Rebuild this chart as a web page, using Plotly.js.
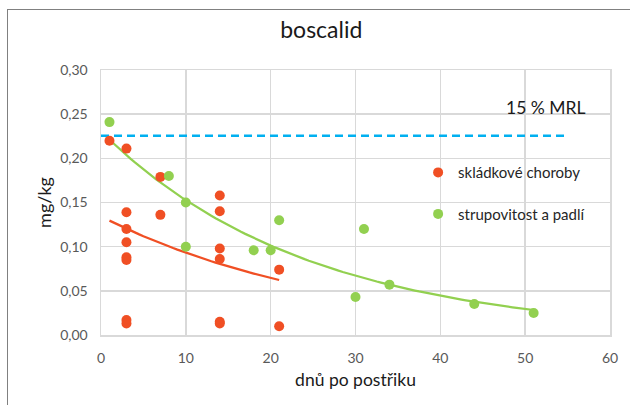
<!DOCTYPE html>
<html>
<head>
<meta charset="utf-8">
<script src="https://cdn.plot.ly/plotly-3.0.1.min.js"></script>
<style>
html,body{margin:0;padding:0;background:#fff;}
#chart{width:630px;height:405px;position:absolute;left:0;top:0;}
#frame{position:absolute;left:7px;top:9px;width:700px;height:500px;border:1.5px solid #808080;pointer-events:none;}
</style>
</head>
<body>
<div id="chart"></div>
<div id="frame"></div>
<script>
// Data
const redName = "skládkové choroby";
const redX = [1, 3, 3, 3, 3, 3, 3, 3, 3, 7, 7, 14, 14, 14, 14, 14, 14, 21, 21];
const redY = [0.220, 0.211, 0.139, 0.120, 0.105, 0.088, 0.085, 0.017, 0.013, 0.179, 0.136, 0.158, 0.140, 0.098, 0.086, 0.015, 0.013, 0.074, 0.010];

const greenName = "strupovitost a padlí";
const greenX = [1, 8, 10, 10, 18, 20, 21, 30, 31, 34, 44, 51];
const greenY = [0.241, 0.180, 0.150, 0.100, 0.096, 0.096, 0.130, 0.043, 0.120, 0.057, 0.035, 0.025];

// Exponential trendlines (Excel style): start and end values
const redTrendX = [1, 21];
const redTrendY = [0.1295, 0.0623];
const greenTrendX = [1, 51];
const greenTrendY = [0.221, 0.0283];

// MRL reference line
const mrlX = [0, 55];
const mrlY = [0.2255, 0.2255];
const mrlLabel = "15 % MRL";

const titleText = "boscalid";
const xTitle = "dnů po postřiku";
const yTitle = "mg/kg";
const xTicks = [0, 10, 20, 30, 40, 50, 60];
const yTicks = [0, 0.05, 0.10, 0.15, 0.20, 0.25, 0.30];

function expCurve(xs, ys) {
  const b = Math.log(ys[1] / ys[0]) / (xs[1] - xs[0]);
  const a = ys[0] / Math.exp(b * xs[0]);
  const X = [], Y = [];
  for (let x = xs[0]; x <= xs[1] + 1e-9; x += 0.5) { X.push(x); Y.push(a * Math.exp(b * x)); }
  return {X, Y};
}
const rT = expCurve(redTrendX, redTrendY);
const gT = expCurve(greenTrendX, greenTrendY);

const RED = '#F04F24', GREEN = '#92D050', BLUE = '#00B0F0';
const FONT = 'Lato, "Liberation Sans", sans-serif';

const traces = [
  {x: mrlX, y: mrlY, mode: 'lines', line: {color: BLUE, width: 2.5, dash: '8px,5px'}, showlegend: false, hoverinfo: 'skip'},
  {x: rT.X, y: rT.Y, mode: 'lines', line: {color: RED, width: 2.25}, showlegend: false, hoverinfo: 'skip'},
  {x: gT.X, y: gT.Y, mode: 'lines', line: {color: GREEN, width: 2.25}, showlegend: false, hoverinfo: 'skip'},
  {x: redX, y: redY, mode: 'markers', name: redName, legendgroup: 'a', marker: {color: RED, size: 10}},
  {x: greenX, y: greenY, mode: 'markers', name: greenName, legendgroup: 'b', marker: {color: GREEN, size: 10}}
];

const layout = {
  width: 630, height: 405,
  margin: {l: 101, r: 20, t: 70, b: 70},
  paper_bgcolor: '#fff', plot_bgcolor: '#fff',
  separators: ', ',
  font: {family: FONT, size: 14, color: '#595959'},
  title: {text: titleText, font: {family: FONT, size: 23, color: '#1a1a1a'}, x: 0.51, xanchor: 'center', y: 0.925, yanchor: 'middle'},
  xaxis: {
    range: [0, 60], tickvals: xTicks, ticktext: xTicks.map(String),
    showgrid: true, gridcolor: '#D9D9D9', gridwidth: 1.5,
    zeroline: false, showline: true, linecolor: '#D9D9D9', linewidth: 1.5, mirror: true,
    ticks: '', ticklen: 0, ticklabelstandoff: 10,
    tickfont: {family: FONT, size: 14, color: '#595959'},
    title: {text: xTitle, font: {family: FONT, size: 17.5, color: '#1a1a1a'}, standoff: 8}
  },
  yaxis: {
    range: [0, 0.30], tickvals: yTicks, tickformat: '.2f',
    showgrid: true, gridcolor: '#D9D9D9', gridwidth: 1.5,
    zeroline: false, showline: true, linecolor: '#D9D9D9', linewidth: 1.5, mirror: true,
    ticks: '', ticklen: 0, ticklabelstandoff: 9,
    tickfont: {family: FONT, size: 14, color: '#595959'},
    title: {text: yTitle, font: {family: FONT, size: 18, color: '#1a1a1a'}, standoff: 4}
  },
  legend: {
    x: 0.623, y: 0.675, xanchor: 'left', yanchor: 'top',
    bgcolor: 'rgba(0,0,0,0)', traceorder: 'grouped', tracegroupgap: 19,
    font: {family: FONT, size: 15, color: '#262626'},
    itemwidth: 30
  },
  annotations: [
    {x: 52.4, y: 0.257, xref: 'x', yref: 'y', text: mrlLabel, showarrow: false,
     font: {family: FONT, size: 17.5, color: '#1a1a1a'}, xanchor: 'center', yanchor: 'middle'}
  ],
  showlegend: true
};

Plotly.newPlot('chart', traces, layout, {displayModeBar: false, staticPlot: true});
</script>
</body>
</html>
